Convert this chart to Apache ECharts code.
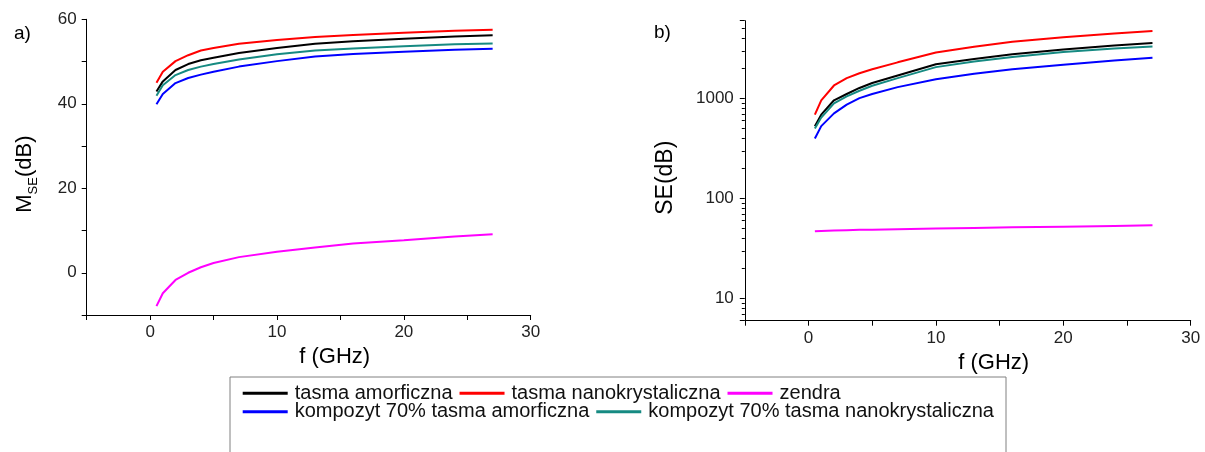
<!DOCTYPE html>
<html>
<head>
<meta charset="utf-8">
<script src="https://cdn.jsdelivr.net/npm/echarts@6/dist/echarts.min.js"></script>
<style>
html,body{margin:0;padding:0;background:#fff;}
#chart{width:1205px;height:452px;}
</style>
</head>
<body>
<div id="chart"></div>
<script>
// ---- data ----
const freq = [0.5, 1, 2, 3, 4, 5, 7, 10, 13, 16, 20, 24, 27];
const seriesNames = ['tasma amorficzna', 'tasma nanokrystaliczna', 'zendra',
  'kompozyt 70% tasma amorficzna', 'kompozyt 70% tasma nanokrystaliczna'];
// panel a) M_SE (dB)
const mseAmorf   = [42.9, 45.3, 48.0, 49.4, 50.3, 50.9, 52.0, 53.2, 54.2, 54.8, 55.4, 55.9, 56.2];
const mseNano    = [45.0, 47.6, 50.1, 51.5, 52.6, 53.2, 54.2, 55.1, 55.8, 56.3, 56.8, 57.3, 57.5];
const mseZendra  = [-7.9, -4.85, -1.7, 0.0, 1.3, 2.3, 3.7, 5.0, 6.0, 6.9, 7.7, 8.6, 9.1];
const mseKompA   = [39.9, 42.3, 44.9, 46.1, 46.9, 47.6, 48.8, 50.1, 51.2, 51.8, 52.3, 52.8, 53.0];
const mseKompN   = [41.9, 44.4, 46.8, 48.0, 48.8, 49.4, 50.5, 51.7, 52.6, 53.1, 53.6, 54.1, 54.3];
// panel b) SE (dB), log axis
const seAmorf    = [528, 690, 960, 1110, 1275, 1430, 1700, 2200, 2490, 2770, 3090, 3390, 3600];
const seNano     = [690, 960, 1350, 1600, 1790, 1960, 2300, 2880, 3300, 3700, 4100, 4470, 4740];
const seZendra   = [47, 47.3, 47.8, 48.2, 48.6, 48.8, 49.3, 50.1, 50.8, 51.5, 52.3, 53.2, 54];
const seKompA    = [398, 530, 710, 870, 1010, 1110, 1300, 1560, 1770, 1960, 2180, 2400, 2550];
const seKompN    = [500, 645, 895, 1050, 1195, 1340, 1600, 2060, 2340, 2600, 2920, 3170, 3310];
const xTickLabels = [0, 10, 20, 30];
const yTickLabelsA = [0, 20, 40, 60];
const yTickLabelsB = [10, 100, 1000];

const colors = ['#000000', '#ff0000', '#ff00ff', '#0000ff', '#168a82'];
const FONT = '"Liberation Sans", Arial, Helvetica, sans-serif';

const chart = echarts.init(document.getElementById('chart'));
const pair = arr => freq.map((f, i) => [f, arr[i]]);
const panelA = [mseAmorf, mseNano, mseZendra, mseKompA, mseKompN];
const panelB = [seAmorf, seNano, seZendra, seKompA, seKompN];

const series = [];
panelA.forEach((arr, i) => series.push({
  name: seriesNames[i], type: 'line', xAxisIndex: 0, yAxisIndex: 0,
  data: pair(arr), symbol: 'none', smooth: false,
  lineStyle: { color: colors[i], width: 2 }, itemStyle: { color: colors[i] }, z: 3
}));
panelB.forEach((arr, i) => series.push({
  name: seriesNames[i], type: 'line', xAxisIndex: 1, yAxisIndex: 1,
  data: pair(arr), symbol: 'none', smooth: false,
  lineStyle: { color: colors[i], width: 2 }, itemStyle: { color: colors[i] }, z: 3
}));

const axisLine = { show: true, onZero: false, lineStyle: { color: '#000', width: 1 } };
const tick = { show: true, inside: false, length: 5, lineStyle: { color: '#000' } };
const lbl = { color: '#222', fontSize: 17, fontFamily: FONT };

function xAxis(gridIndex) {
  return {
    type: 'value', gridIndex, min: -5, max: 30, interval: 5,
    axisLine, axisTick: tick, splitLine: { show: false },
    axisLabel: Object.assign({}, lbl, { margin: 9,
      formatter: v => xTickLabels.includes(v) ? String(v) : '' }),
    name: 'f (GHz)', nameLocation: 'middle', nameGap: 23,
    nameTextStyle: { fontSize: 22, fontFamily: FONT, color: '#000', padding: [0, 0, 0, 52] }
  };
}

const legendCommon = {
  padding: 0, orient: 'horizontal', icon: 'rect',
  itemWidth: 45, itemHeight: 3, itemGap: 7, selectedMode: false,
  textStyle: { fontSize: 20, fontFamily: FONT, color: '#111', padding: [0, 0, 0, 2] }
};

const option = {
  animation: false,
  backgroundColor: '#fff',
  grid: [
    { left: 86.7, top: 19.3, width: 444, height: 295.7, containLabel: false },
    { left: 744.8, top: 20.7, width: 445.9, height: 300, containLabel: false }
  ],
  xAxis: [xAxis(0), xAxis(1)],
  yAxis: [
    {
      type: 'value', gridIndex: 0, min: -10, max: 60, interval: 10,
      axisLine, axisTick: tick, splitLine: { show: false },
      axisLabel: Object.assign({}, lbl, { margin: 10,
        formatter: v => yTickLabelsA.includes(v) ? String(v) : '' }),
      name: 'M{sub|SE}(dB)', nameLocation: 'middle', nameGap: 47, nameRotate: 90,
      nameTextStyle: { fontSize: 22, fontFamily: FONT, color: '#000', padding: [0, 14, 0, 0],
        rich: { sub: { fontSize: 13, fontFamily: FONT, color: '#000', verticalAlign: 'top', padding: [16, 0, 0, 0] } } }
    },
    {
      type: 'log', logBase: 10, gridIndex: 1, min: 6, max: 6000,
      axisLine, axisTick: tick, splitLine: { show: false },
      minorTick: { show: true, splitNumber: 9, length: 3, lineStyle: { color: '#000' } },
      axisLabel: Object.assign({}, lbl, { margin: 11, showMinLabel: false, showMaxLabel: false,
        formatter: v => yTickLabelsB.includes(Math.round(v)) ? String(Math.round(v)) : '' }),
      name: 'SE(dB)', nameLocation: 'middle', nameGap: 68, nameRotate: 90,
      nameTextStyle: { fontSize: 23, fontFamily: FONT, color: '#000', padding: [0, 14, 0, 0] }
    }
  ],
  legend: [
    Object.assign({ data: seriesNames.slice(0, 3), left: 242.7, top: 383.3 }, legendCommon),
    Object.assign({ data: seriesNames.slice(3), left: 242.7, top: 401.7 }, legendCommon)
  ],
  graphic: [
    { type: 'rect', left: 227.5, top: 374.5, shape: { width: 776, height: 110 },
      style: { fill: 'none', stroke: '#808080', lineWidth: 1 }, silent: true },
    { type: 'text', left: 14, top: 24, style: { text: 'a)', fontSize: 19, fontFamily: FONT, fill: '#000' } },
    { type: 'text', left: 654, top: 23, style: { text: 'b)', fontSize: 19, fontFamily: FONT, fill: '#000' } }
  ],
  series
};
chart.setOption(option);
</script>
</body>
</html>
